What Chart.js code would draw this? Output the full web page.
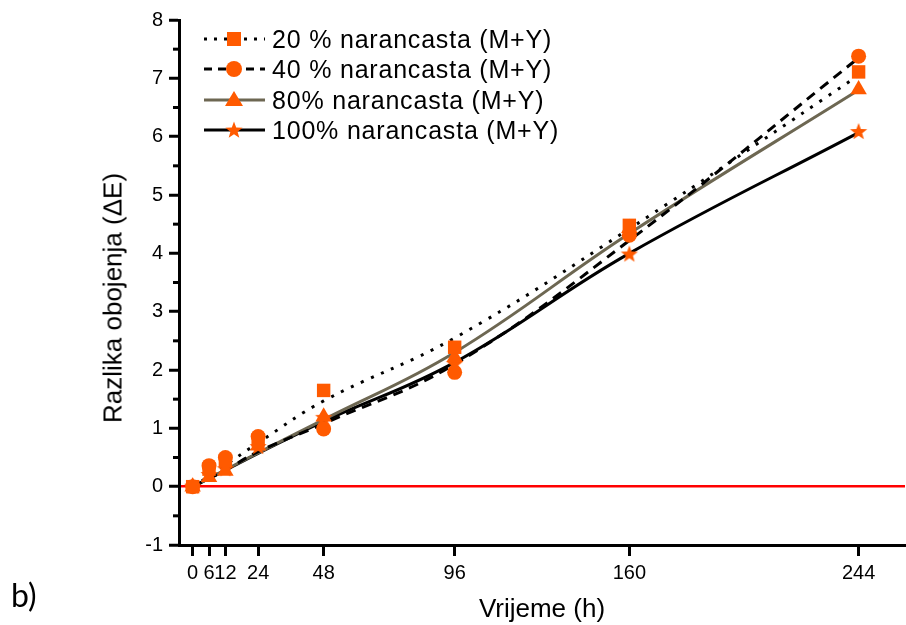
<!DOCTYPE html>
<html>
<head>
<meta charset="utf-8">
<script src="https://cdn.jsdelivr.net/npm/chart.js@4.4.1/dist/chart.umd.min.js"></script>
<style>
  body { margin: 0; background: #fff; }
  #wrap { position: relative; width: 906px; height: 625px; }
  #legend { position: absolute; left: 0; top: 0; font-family: "Liberation Sans", Arial, sans-serif; font-size: 25px; color: #000; }
  .row { position: absolute; left: 203px; height: 30px; display: flex; align-items: center; white-space: nowrap; }
  .row span { margin-left: 6px; letter-spacing: 0.8px; }
  #ytitle { position: absolute; left: 113px; top: 298px; transform: translate(-50%, -50%) rotate(-90deg);
            font-family: "Liberation Sans", Arial, sans-serif; font-size: 26px; white-space: nowrap; color: #000; }
  #tag { position: absolute; left: 11px; top: 575px; font-family: Lato, sans-serif; font-size: 32px; }
</style>
</head>
<body>
<div id="wrap">
  <canvas id="deltaChart" width="906" height="625"></canvas>
  <div id="legend"></div>
  <div id="ytitle">Razlika obojenja (&Delta;E)</div>
  <div id="tag">b)</div>
</div>
<script>
  // sampling times (h) and tick labels on x
  const hours = [0, 6, 12, 24, 48, 96, 160, 244];
  const yTicks = [-1, 0, 1, 2, 3, 4, 5, 6, 7, 8];

  const seriesNames = ['20 % narancasta (M+Y)', '40 % narancasta (M+Y)', '80% narancasta (M+Y)', '100% narancasta (M+Y)'];

  // measured colour difference (markers)
  const measured20 = [0, 0.30, 0.45, 0.80, 1.65, 2.39, 4.48, 7.11];
  const measured40 = [0, 0.36, 0.50, 0.86, 0.99, 1.96, 4.31, 7.38];
  const measured80 = [0, 0.16, 0.27, 0.70, 1.20, 2.22, 4.43, 6.81];
  const measured100 = [0, 0.20, 0.30, 0.68, 1.18, 2.10, 3.98, 6.08];

  // fitted curves at the same times
  const fit20 = [0, 0.18, 0.37, 0.75, 1.47, 2.55, 4.42, 7.05];
  const fit40 = [0, 0.14, 0.28, 0.60, 1.08, 2.10, 4.22, 7.35];
  const fit80 = [0, 0.14, 0.29, 0.58, 1.15, 2.30, 4.34, 6.80];
  const fit100 = [0, 0.14, 0.28, 0.57, 1.12, 2.13, 4.00, 6.07];

  const orange = '#ff5a00';
  const grey = '#6d6752';
  const fontFamily = '"Liberation Sans", Arial, sans-serif';

  const pts = ys => hours.map((h, i) => ({ x: h, y: ys[i] }));

  // filled five point star for the 100% series
  function starImage(r) {
    const c = document.createElement('canvas');
    c.width = c.height = Math.ceil(r * 2 + 2);
    const g = c.getContext('2d');
    const cx = c.width / 2, cy = c.height / 2;
    g.beginPath();
    for (let i = 0; i < 10; i++) {
      const rad = i % 2 === 0 ? r : r * 0.42;
      const a = -Math.PI / 2 + i * Math.PI / 5;
      g.lineTo(cx + rad * Math.cos(a), cy + rad * Math.sin(a));
    }
    g.closePath();
    g.fillStyle = orange;
    g.fill();
    return c;
  }
  const star = starImage(9);

  const lineSet = (ys, color, dash) => ({
    data: pts(ys),
    borderColor: color,
    borderWidth: 3,
    borderDash: dash,
    borderCapStyle: 'butt',
    pointRadius: 0,
    fill: false,
    tension: 0.4,
    order: 1
  });
  const markSet = (ys, style, r) => ({
    data: pts(ys),
    showLine: false,
    pointStyle: style,
    pointRadius: r,
    pointBackgroundColor: orange,
    pointBorderColor: orange,
    pointBorderWidth: 0,
    order: 0
  });

  // short ticks between the integer ticks on the y axis
  const minorTicks = {
    id: 'minorTicks',
    afterDraw(chart) {
      const y = chart.scales.y, ctx = chart.ctx;
      ctx.save();
      ctx.strokeStyle = '#000';
      ctx.lineWidth = 3;
      for (let i = 0; i < yTicks.length - 1; i++) {
        const py = y.getPixelForValue((yTicks[i] + yTicks[i + 1]) / 2);
        ctx.beginPath();
        ctx.moveTo(y.right - 1, py);
        ctx.lineTo(y.right - 6, py);
        ctx.stroke();
      }
      ctx.restore();
    }
  };

  const ctx = document.getElementById('deltaChart').getContext('2d');
  new Chart(ctx, {
    type: 'line',
    data: {
      datasets: [
        lineSet(fit20, '#000', [3, 8]),
        lineSet(fit40, '#000', [10, 7]),
        lineSet(fit80, grey, []),
        lineSet(fit100, '#000', []),
        markSet(measured20, 'rect', 9.5),
        markSet(measured40, 'circle', 7.5),
        markSet(measured80, 'triangle', 9.5),
        markSet(measured100, star, 9)
      ]
    },
    options: {
      responsive: false,
      animation: false,
      layout: { autoPadding: false, padding: { top: 20, right: 1, left: 0, bottom: 0 } },
      plugins: { legend: { display: false }, tooltip: { enabled: false } },
      scales: {
        x: {
          type: 'linear',
          min: -5,
          max: 261,
          afterBuildTicks: scale => { scale.ticks = hours.map(v => ({ value: v })); },
          afterFit: scale => { scale.height = 80; scale.paddingLeft = 0; scale.paddingRight = 0; },
          border: { color: '#000', width: 3 },
          grid: { drawOnChartArea: false, tickLength: 11, tickColor: '#000', tickWidth: 3 },
          ticks: {
            autoSkip: false,
            maxRotation: 0,
            padding: 5,
            color: '#000',
            font: { family: fontFamily, size: 20 }
          },
          title: {
            display: true,
            text: 'Vrijeme (h)',
            color: '#000',
            padding: { top: 0, bottom: 0 },
            font: { family: fontFamily, size: 26 }
          }
        },
        y: {
          min: -1,
          max: 8,
          afterBuildTicks: scale => { scale.ticks = yTicks.map(v => ({ value: v })); },
          afterFit: scale => { scale.width = 179; scale.paddingTop = 0; scale.paddingBottom = 0; },
          border: { color: '#000', width: 3 },
          grid: {
            drawOnChartArea: true,
            color: c => (c.tick && c.tick.value === 0 ? '#ff0000' : 'rgba(0,0,0,0)'),
            lineWidth: 2.5,
            tickLength: 10,
            tickColor: '#000',
            tickWidth: 3
          },
          ticks: {
            padding: 6,
            color: '#000',
            font: { family: fontFamily, size: 20 }
          },
          title: { display: false }
        }
      }
    },
    plugins: [minorTicks]
  });

  // legend: line sample + marker + text
  const legendStyles = [
    { stroke: '#000', dash: '3 7', mark: '<rect x="24" y="5" width="14" height="14" fill="' + orange + '"/>' },
    { stroke: '#000', dash: '8 6', mark: '<circle cx="31" cy="12" r="8" fill="' + orange + '"/>' },
    { stroke: grey, dash: '', mark: '<polygon points="31,3 40,18 22,18" fill="' + orange + '"/>' },
    { stroke: '#000', dash: '', mark: '<polygon points="STAR" fill="' + orange + '"/>' }
  ];
  const starPts = [];
  for (let i = 0; i < 10; i++) {
    const rad = i % 2 === 0 ? 9 : 3.8;
    const a = -Math.PI / 2 + i * Math.PI / 5;
    starPts.push((31 + rad * Math.cos(a)).toFixed(1) + ',' + (12.5 + rad * Math.sin(a)).toFixed(1));
  }
  const rowTops = [24, 54, 85, 115];
  const legend = document.getElementById('legend');
  seriesNames.forEach((name, i) => {
    const s = legendStyles[i];
    const row = document.createElement('div');
    row.className = 'row';
    row.style.top = rowTops[i] + 'px';
    row.innerHTML =
      '<svg width="63" height="24" viewBox="0 0 63 24">' +
      '<line x1="1" y1="12" x2="62" y2="12" stroke="' + s.stroke + '" stroke-width="3"' +
      (s.dash ? ' stroke-dasharray="' + s.dash + '"' : '') + '/>' +
      s.mark.replace('STAR', starPts.join(' ')) +
      '</svg><span>' + name + '</span>';
    legend.appendChild(row);
  });
</script>
</body>
</html>
